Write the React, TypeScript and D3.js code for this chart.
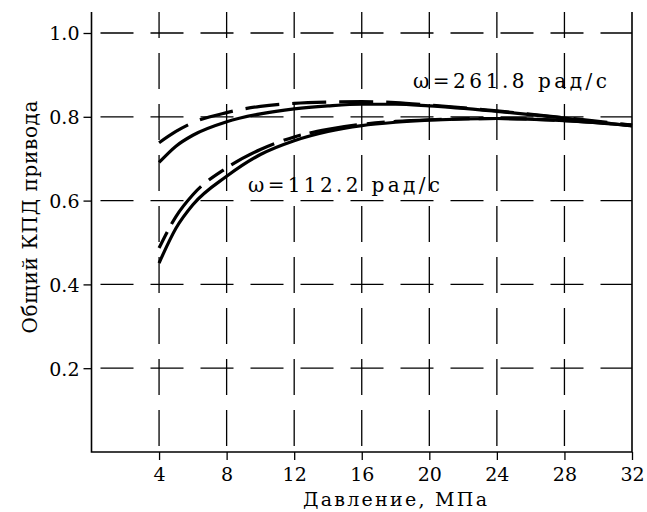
import React, { useEffect, useRef } from 'react';
import * as d3 from 'd3';

// pressure, MPa
const pressure = [4, 5, 6, 8, 10, 12, 14, 16, 18, 20, 24, 28, 32];
// overall drive efficiency, w = 261.8 rad/s
const eff261Dashed = [0.738, 0.765, 0.786, 0.81, 0.825, 0.832, 0.835, 0.836, 0.834, 0.828, 0.814, 0.798, 0.78];
const eff261Solid = [0.691, 0.73, 0.756, 0.788, 0.807, 0.819, 0.826, 0.83, 0.83, 0.826, 0.813, 0.797, 0.778];
// w = 112.2 rad/s
const eff112Dashed = [0.487, 0.562, 0.614, 0.678, 0.722, 0.752, 0.77, 0.782, 0.789, 0.793, 0.796, 0.791, 0.78];
const eff112Solid = [0.451, 0.534, 0.59, 0.658, 0.71, 0.743, 0.765, 0.779, 0.787, 0.792, 0.796, 0.791, 0.779];

const xTicks = [4, 8, 12, 16, 20, 24, 28, 32];
const yTicks = [0.2, 0.4, 0.6, 0.8, 1.0];

const series = [
  { values: eff261Dashed, dash: '34 13' },
  { values: eff261Solid, dash: null },
  { values: eff112Dashed, dash: '18 9 48 10' },
  { values: eff112Solid, dash: null },
];

const font = '"DejaVu Serif", serif';
const tickSize = 19;
const labelSize = 20;

export default function App() {
  const ref = useRef<SVGSVGElement>(null);

  useEffect(() => {
    const svg = d3.select(ref.current);
    svg.selectAll('*').remove();

    const x = d3.scaleLinear().domain([0, 32]).range([91.5, 632]);
    const y = d3.scaleLinear().domain([0, 1]).range([452, 33]);
    const top = 12;

    // grid //
    const grid = svg.append('g').attr('stroke', '#000').attr('stroke-width', 1.3).attr('fill', 'none');
    grid.selectAll('line.h')
      .data(yTicks)
      .enter()
      .append('line')
      .attr('x1', x(0)).attr('x2', x(32))
      .attr('y1', d => y(d)).attr('y2', d => y(d))
      .attr('stroke-dasharray', '33 17')
      .attr('stroke-dashoffset', 41);
    grid.selectAll('line.v')
      .data(xTicks.filter(d => d < 32))
      .enter()
      .append('line')
      .attr('x1', d => x(d)).attr('x2', d => x(d))
      .attr('y1', top).attr('y2', y(0))
      .attr('stroke-dasharray', '36 15')
      .attr('stroke-dashoffset', 10);

    // frame (left, bottom, right) //
    const xAxis = d3.axisBottom(x).tickValues(xTicks).tickSize(8).tickSizeOuter(0).tickFormat(d3.format('d'));
    const yAxis = d3.axisLeft(y).tickValues(yTicks).tickSize(8).tickSizeOuter(0).tickFormat(d3.format('.1f'));

    const gx = svg.append('g').attr('transform', `translate(0, ${y(0)})`).call(xAxis);
    const gy = svg.append('g').attr('transform', `translate(${x(0)}, 0)`).call(yAxis);
    [gx, gy].forEach(g => {
      g.select('.domain').remove();
      g.selectAll('line').attr('stroke', '#000').attr('stroke-width', 1.3);
      g.selectAll('text').attr('font-family', font).attr('font-size', tickSize).attr('fill', '#000');
    });
    gx.selectAll('text').attr('dy', null).attr('y', 29);
    gy.selectAll('text').attr('x', -12).attr('dy', '0.36em');

    svg.append('path')
      .attr('d', `M${x(0)},${top}V${y(0)}H${x(32)}V${top}`)
      .attr('fill', 'none')
      .attr('stroke', '#000')
      .attr('stroke-width', 1.6);

    // curves //
    const line = d3.line<number>()
      .x((_, i) => x(pressure[i]))
      .y(d => y(d))
      .curve(d3.curveMonotoneX);

    svg.selectAll('path.curve')
      .data(series)
      .enter()
      .append('path')
      .attr('class', 'curve')
      .attr('d', d => line(d.values))
      .attr('fill', 'none')
      .attr('stroke', '#000')
      .attr('stroke-width', 3.2)
      .attr('stroke-dasharray', d => d.dash);

    // labels //
    const txt = (s: string, tx: number, ty: number, len: number, size: number, anchor = 'start') =>
      svg.append('text')
        .attr('x', tx).attr('y', ty)
        .attr('text-anchor', anchor)
        .attr('font-family', font)
        .attr('font-size', size)
        .attr('textLength', len)
        .attr('lengthAdjust', 'spacing')
        .text(s);

    txt('ω=261.8 рад/с', 413, 88, 194, labelSize);
    txt('ω=112.2 рад/с', 248, 192, 192, labelSize);
    txt('Давление, МПа', 303, 506, 184, 19);
    txt('Общий КПД привода', 0, 0, 233, labelSize, 'middle')
      .attr('transform', 'translate(37, 217) rotate(-90)');
  }, []);

  return (
    <svg
      ref={ref}
      width={647}
      height={512}
      style={{ position: 'absolute', left: 0, top: 0, background: '#fff' }}
    />
  );
}
